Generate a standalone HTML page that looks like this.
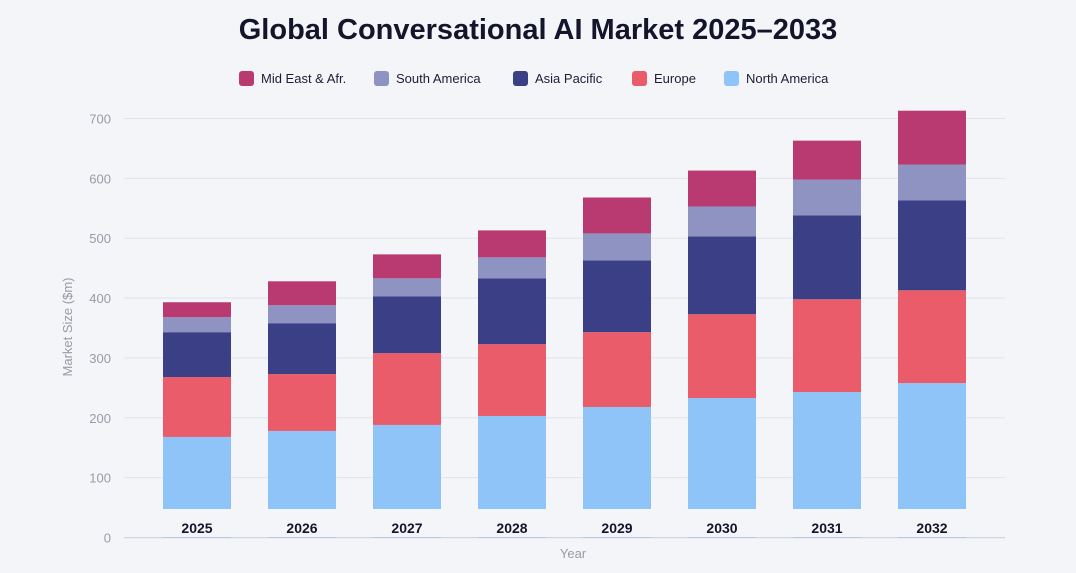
<!DOCTYPE html>
<html><head><meta charset="utf-8">
<style>
body{margin:0;background:#f4f5f9;font-family:"Liberation Sans",sans-serif;}
#wrap{position:relative;width:1076px;height:573px;overflow:hidden;background:#f4f5f9;}
.title{position:absolute;top:14px;left:0;width:1076px;text-align:center;font-size:29px;font-weight:bold;color:#14142b;}
.lg{position:absolute;top:71px;height:16px;font-size:13px;color:#1d1d35;line-height:16px;}
.sw{position:absolute;top:0;width:15px;height:15px;border-radius:3px;}
</style></head><body>
<div id="wrap">
<div class="title">Global Conversational AI Market 2025–2033</div>
<div id="legend"></div>
<svg id="svg" width="1076" height="573" style="position:absolute;left:0;top:0"></svg>
</div>
<script>
const years=["2025","2026","2027","2028","2029","2030","2031","2032"];
const northAmerica=[168,178,188,203,218,233,243,258];
const europe=[100,95,120,120,125,140,155,155];
const asiaPacific=[75,85,95,110,120,130,140,150];
const southAmerica=[25,30,30,35,45,50,60,60];
const midEastAfr=[25,40,40,45,60,60,65,90];
const yTicks=[0,100,200,300,400,500,600,700];
const series=[
 {name:"North America",vals:northAmerica,color:"#8ec4f7",lx:724},
 {name:"Europe",vals:europe,color:"#eb5c6a",lx:632},
 {name:"Asia Pacific",vals:asiaPacific,color:"#3a3f86",lx:513},
 {name:"South America",vals:southAmerica,color:"#8e93c2",lx:374},
 {name:"Mid East & Afr.",vals:midEastAfr,color:"#b83a70",lx:239}
];
const NS="http://www.w3.org/2000/svg";
const svg=document.getElementById('svg');
const y=v=>537.5-v*0.5986;
const xc=i=>197+i*105;
function mk(t,a){const e=document.createElementNS(NS,t);for(const k in a)e.setAttribute(k,a[k]);svg.appendChild(e);return e;}
yTicks.forEach(t=>{
 const l=mk('line',{x1:124,x2:1005,y1:y(t),y2:y(t),stroke:t===0?'#d4d5dc':'#e2e3ea','stroke-width':t===0?1.5:1});
 
 
 const tx=mk('text',{x:111,y:y(t)+5,'text-anchor':'end','font-size':13,fill:'#9a9aa6'});
 tx.textContent=t;
 
 
});
years.forEach((yr,i)=>{
 let base=0;
 series.forEach(s=>{
  const v=s.vals[i];
  const r=mk('rect',{x:xc(i)-34,width:68,y:y(base+v),height:y(base)-y(base+v),fill:s.color});
  
  
  base+=v;
 });
});
const cover=mk('rect',{x:124,y:509,width:881,height:28,fill:'#f4f5f9'});


years.forEach((yr,i)=>{
 const t=mk('text',{x:xc(i),y:533,'text-anchor':'middle','font-size':14,'font-weight':'bold',fill:'#14142b'});
 t.textContent=yr;
 
 
});
const xt=mk('text',{x:573,y:558,'text-anchor':'middle','font-size':13,fill:'#9a9aa6'});
xt.textContent='Year';


const yt=mk('text',{x:0,y:0,'text-anchor':'middle','font-size':13,fill:'#9a9aa6',transform:'translate(72,327) rotate(-90)'});
yt.textContent='Market Size ($m)';


const lg=document.getElementById('legend');
series.forEach(s=>{
 const d=document.createElement('div');
 d.className='lg';d.style.left=s.lx+'px';
 
 
 d.innerHTML='<span class="sw" style="left:0;background:'+s.color+'"></span><span style="position:absolute;left:22px;white-space:nowrap">'+s.name.replace('&','&amp;')+'</span>';
 lg.appendChild(d);
});
</script>
</body></html>
